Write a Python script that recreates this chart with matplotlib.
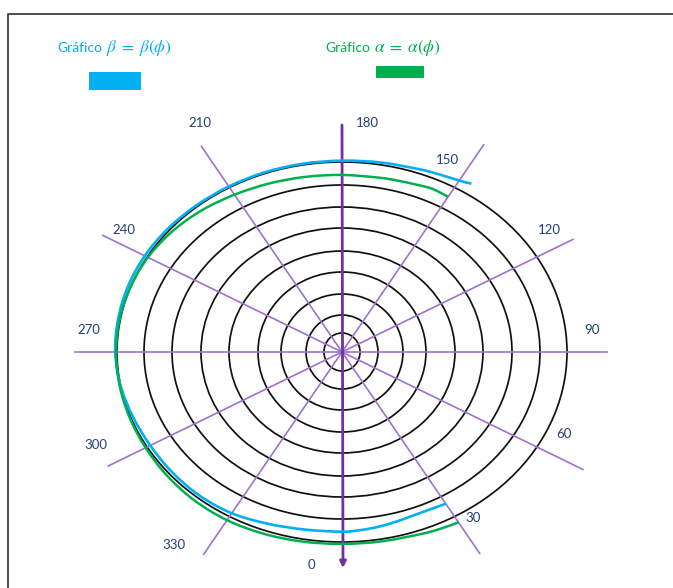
import matplotlib.pyplot as plt
import numpy as np
from matplotlib.patches import Ellipse, PathPatch, Rectangle
from matplotlib.path import Path

plt.rcParams['mathtext.fontset'] = 'stix'

# pole of the diagram, in pixels
CX, CY = 342, 352
# half-width / half-height of the outer ring
A_OUT, B_OUT = 225, 190

# angle labels, 0 at the bottom, counter-clockwise
spoke_angles = [0, 30, 60, 90, 120, 150, 180, 210, 240, 270, 300, 330]
spoke_lengths = [216, 244, 268, 265, 257, 251, 227, 249, 266, 267, 260, 245]
label_offsets = [(-31, 213), (131, 166), (222, 82), (250, -22), (207, -122),
                 (105, -192), (25, -229), (-142, -229), (-218, -122),
                 (-253, -22), (-246, 93), (-168, 193)]

# concentric rings (half axes)
ring_w = [18, 36, 61, 84, 113, 141, 170, 198, 225]
ring_h = [19, 37, 58, 80, 101, 124, 145, 167, 190]

# beta = beta(phi), radius relative to the outer ring
beta_phi = [30, 25, 20, 15, 10, 5, 0, -10, -20, -30, -40, -50, -60, -70, -80,
            -90, -100, -110, -120, -130, -140, -150, -160, -170, -180, -190,
            -200, -205, -210, -213]
beta_r = [0.922, 0.916, 0.917, 0.925, 0.934, 0.941, 0.946, 0.949, 0.962,
          0.980, 0.986, 0.985, 0.984, 0.990, 1.000, 1.008, 1.010, 1.012,
          1.012, 1.010, 1.007, 1.006, 1.006, 1.006, 1.007, 1.012, 1.022,
          1.030, 1.042, 1.056]

# alpha = alpha(phi)
alpha_phi = [30, 25, 20, 10, 0, -10, -20, -30, -40, -50, -60, -70, -80, -90,
             -100, -110, -120, -130, -140, -150, -160, -170, -180, -190,
             -195, -200, -205, -210]
alpha_r = [1.035, 1.028, 1.020, 1.012, 1.010, 1.013, 1.018, 1.022, 1.020,
           1.014, 1.008, 1.005, 1.004, 1.004, 1.003, 1.000, 0.996, 0.986,
           0.972, 0.956, 0.944, 0.936, 0.932, 0.932, 0.935, 0.940, 0.948,
           0.943]

PURPLE = '#7030a0'
SPOKE = '#9d72d0'
LABEL = '#243f78'
CYAN = '#00b0f0'
GREEN = '#00b050'


def to_xy(phi, r):
    t = np.radians(phi)
    r = np.asarray(r)
    return CX + A_OUT * r * np.sin(t), CY + B_OUT * r * np.cos(t)


def smooth_path(x, y):
    """Catmull-Rom curve through the points, as cubic Bezier segments."""
    p = np.column_stack([x, y])
    ext = np.vstack([p[0], p, p[-1]])
    verts = [p[0]]
    for i in range(1, len(ext) - 2):
        c1 = ext[i] + (ext[i + 1] - ext[i - 1]) / 6
        c2 = ext[i + 1] - (ext[i + 2] - ext[i]) / 6
        verts += [c1, c2, ext[i + 1]]
    codes = [Path.MOVETO] + [Path.CURVE4] * (len(verts) - 1)
    return Path(verts, codes)


fig = plt.figure(figsize=(6.73, 5.88), dpi=100)
ax = fig.add_axes([0, 0, 1, 1])
ax.set_xlim(0, 673)
ax.set_ylim(588, 0)
ax.axis('off')

# frame
ax.plot([8, 8, 673], [588, 14, 14], color='#404040', lw=1.3, zorder=1)

for w, h in zip(ring_w, ring_h):
    ax.add_patch(Ellipse((CX, CY), 2 * w, 2 * h, fill=False,
                         ec='#111111', lw=1.25, zorder=2))

sx = A_OUT / B_OUT
for ang, length, (dx, dy) in zip(spoke_angles, spoke_lengths, label_offsets):
    t = np.radians(ang)
    d = np.array([sx * np.sin(t), np.cos(t)])
    d = d / np.hypot(*d)
    if ang not in (0, 180):
        ax.plot([CX, CX + length * d[0]], [CY, CY + length * d[1]],
                color=SPOKE, lw=1.2, zorder=3)
    ax.text(CX + dx, CY + dy, str(ang), color=LABEL, fontsize=9.5,
            family='Lato', ha='center', va='center')

# vertical axis with arrow pointing down
ax.annotate('', xy=(CX + 1, CY + spoke_lengths[0]),
            xytext=(CX, CY - spoke_lengths[6]),
            arrowprops=dict(arrowstyle='-|>', color=PURPLE, lw=2.0,
                            mutation_scale=9, shrinkA=0, shrinkB=0),
            zorder=4)

bx, by = to_xy(beta_phi, beta_r)
ax.add_patch(PathPatch(smooth_path(bx, by), fill=False, ec=CYAN, lw=1.9,
                       capstyle='butt', zorder=5))
gx, gy = to_xy(alpha_phi, alpha_r)
ax.add_patch(PathPatch(smooth_path(gx, gy), fill=False, ec=GREEN, lw=1.8,
                       capstyle='butt', zorder=6))

# legend
legend_items = [(57, 89, 72, 52, 18, CYAN, r'$\beta\;=\;\beta(\phi)$'),
                (325, 376, 66, 48, 12, GREEN, r'$\alpha\;=\;\alpha(\phi)$')]
for tx, rx, ry, rw, rh, col, formula in legend_items:
    ax.text(tx, 48, 'Gráfico', color=col, fontsize=10, family='Lato',
            ha='left', va='center')
    ax.text(tx + 49, 48, formula, color=col, fontsize=12.5,
            ha='left', va='center')
    ax.add_patch(Rectangle((rx, ry), rw, rh, color=col, lw=0))

fig.savefig('out.png', dpi=100, facecolor='white')
